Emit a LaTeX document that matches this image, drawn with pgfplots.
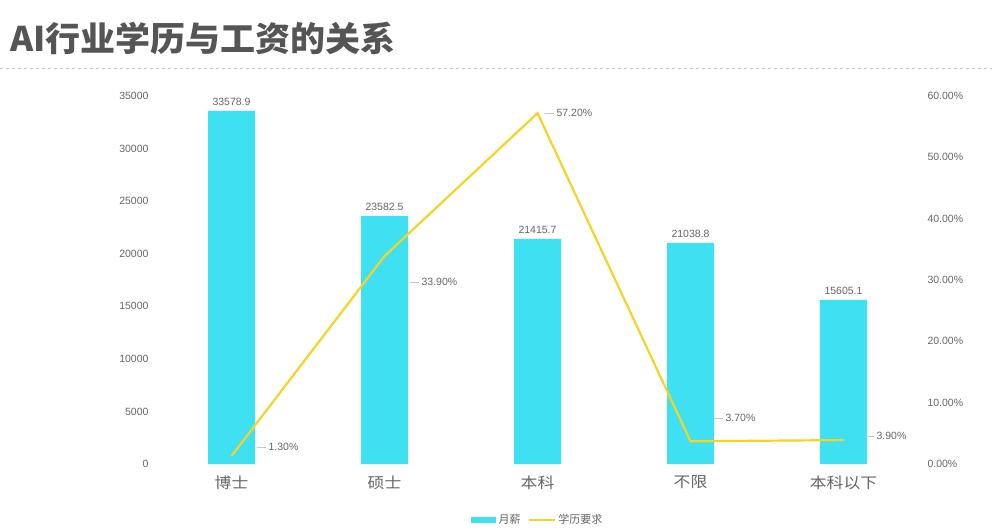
\documentclass[border=0pt]{standalone}
\usepackage{pgfplots}
\pgfplotsset{compat=1.18}
\usepackage{pgfplotstable}
\usepackage{fontspec}
\setmainfont{Liberation Sans}
\newfontfamily\cjk{Noto Sans CJK SC}
\definecolor{barcyan}{HTML}{3FE0F2}
\definecolor{lineyellow}{HTML}{F5D327}
\definecolor{txtgray}{HTML}{666666}
\definecolor{titlegray}{HTML}{555555}

% monthly salary per degree
\pgfplotstableread{
x salary
0 33578.9
1 23582.5
2 21415.7
3 21038.8
4 15605.1
}\salary
% share of job ads per degree (%), with label offsets in pt
\pgfplotstableread{
x pct dx dy
0 1.3 24 9
1 33.9 24 -26
2 57.2 6 0
3 3.7 22 23
4 3.9 20 4
}\edu

\begin{document}
\begin{tikzpicture}
\fill[white] (0,0) rectangle (992pt,530pt);
\node[anchor=west, text=titlegray, inner sep=0pt, xscale=1.03,
  font=\cjk\bfseries\fontsize{34}{34}\selectfont] at (10pt,492pt) {AI行业学历与工资的关系};
\draw[gray!45, dashed, line width=0.6pt] (0,462pt) -- (992pt,462pt);

\pgfplotsset{chartbase/.style={
  at={(155pt,66pt)}, anchor=south west, scale only axis,
  width=765pt, height=368pt,
  xmin=-0.5, xmax=4.5,
  axis line style={draw=none}, tick style={draw=none},
  /pgf/number format/assume math mode=true,
  ticklabel style={font=\fontsize{10.5}{12}\selectfont, text=txtgray},
}}

\begin{axis}[chartbase,
  ymin=0, ymax=35000, ytick={0,5000,...,35000},
  scaled y ticks=false,
  yticklabel style={/pgf/number format/1000 sep={}, xshift=-3pt},
  xtick=data, xticklabels={博士,硕士,本科,不限,本科以下},
  xticklabel style={font=\cjk\fontsize{15}{16}\selectfont, text=txtgray, yshift=-4pt, xscale=1.12},
  ybar, bar width=47pt,
  nodes near coords,
  nodes near coords style={font=\fontsize{10.5}{12}\selectfont, text=txtgray, yshift=2pt,
    /pgf/number format/.cd, fixed, fixed zerofill, precision=1, 1000 sep={}},
  legend style={at={(0.5,-0.152)}, anchor=center, draw=none, fill=none,
    legend columns=2, font=\cjk\fontsize{11}{12}\selectfont, text=txtgray,
    /tikz/every odd column/.append style={column sep=1pt},
    /tikz/every even column/.append style={column sep=5pt}},
]
\addplot[fill=barcyan, draw=none,
  legend image code/.code={\fill[barcyan] (0pt,-3pt) rectangle (25pt,3pt);}]
  table[x=x, y=salary]{\salary};
\addlegendentry{月薪}
\addlegendimage{lineyellow, line width=1.6pt,
  legend image code/.code={\draw[lineyellow, line width=1.6pt] (0pt,0pt) -- (26pt,0pt);}}
\addlegendentry{学历要求}
\end{axis}

\begin{axis}[chartbase,
  ymin=0, ymax=60, ytick={0,10,...,60},
  axis y line*=right, axis x line=none,
  yticklabel={\pgfmathprintnumber[fixed,fixed zerofill,precision=2]{\tick}\%},
  yticklabel style={xshift=4pt},
]
\addplot[lineyellow, line width=2.2pt, no markers,
  visualization depends on={\thisrow{dx} \as \dx},
  visualization depends on={\thisrow{dy} \as \dy},
  nodes near coords={\textcolor{gray!45}{\rule[0.6ex]{9pt}{0.4pt}}\hspace{3pt}\pgfmathprintnumber[fixed,fixed zerofill,precision=2]{\pgfplotspointmeta}\%},
  nodes near coords style={anchor=west, inner sep=0pt, xshift=\dx pt, yshift=\dy pt,
    font=\fontsize{10.5}{12}\selectfont, text=txtgray},
] table[x=x, y=pct]{\edu};
\end{axis}

\pgfresetboundingbox
\path (0,0) rectangle (992pt,530pt);
\end{tikzpicture}
\end{document}
